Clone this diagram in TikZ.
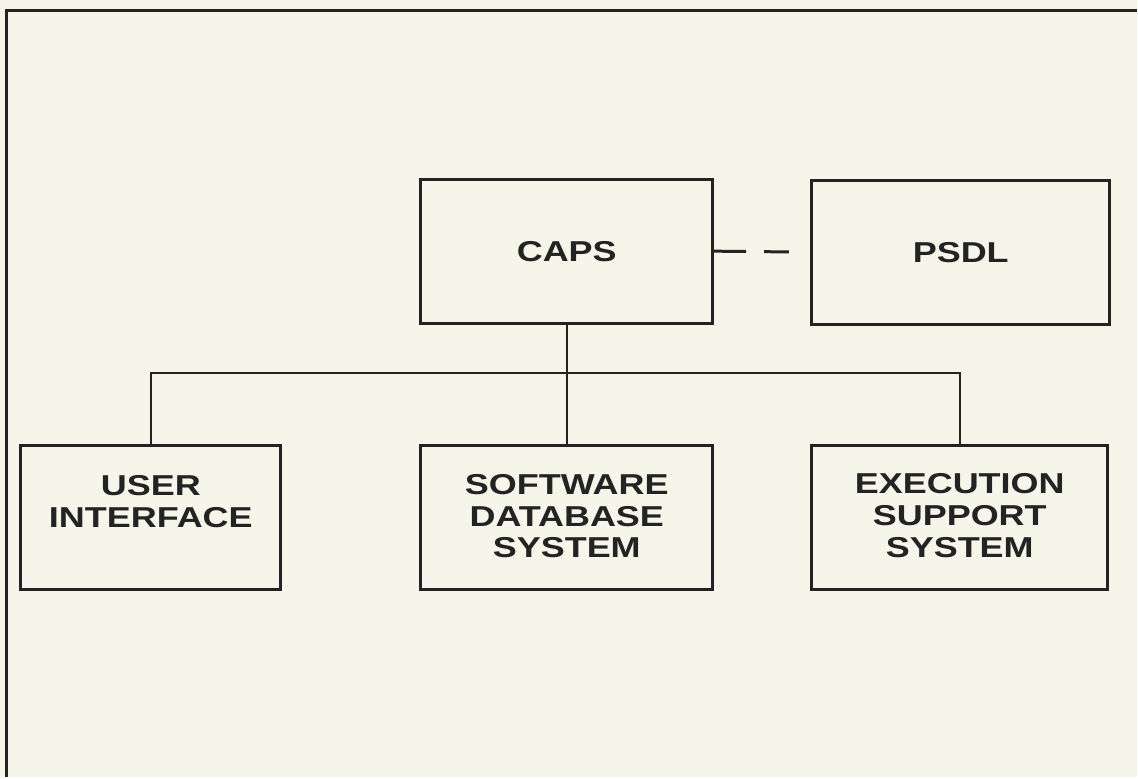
\documentclass[tikz,border=0pt]{standalone}
\usepackage{fontspec}
\setmainfont{Liberation Sans}[FakeStretch=1.25]
\usetikzlibrary{positioning}
\definecolor{paper}{RGB}{245,245,234}
\definecolor{ink}{RGB}{35,35,35}
\newcommand{\stacked}[1]{\begin{tabular}{@{}c@{}}#1\end{tabular}}

\begin{document}
\begin{tikzpicture}[x=0.5pt, y=-0.5pt, module/.style={draw=ink, line width=1.5pt, shape=rectangle, minimum width=146pt, minimum height=72pt, inner sep=0pt, align=center, text=ink}, every node/.style={font=\fontsize{14.4}{16}\bfseries\selectfont}]

    % Page and frame
    \fill[paper] (0,0) rectangle (1138,778);
    \draw[ink, line width=1.5pt] (7,778) -- (7,11) -- (1138,11);

    % Define the modules (nodes)
    \node[module] (caps) at (567.5,251.5) {CAPS}; % top module
    \node[module, minimum width=149pt] (psdl) at (962,252.5) {PSDL}; % language, to the right of CAPS
    \node[module, minimum width=130pt, text height=21pt, text depth=27pt] (ui) at (151,518.5) {\stacked{USER\\INTERFACE}}; % text sits high
    \node[module, text height=28.5pt, text depth=19.5pt] (sdb) at (567.5,518.5) {\stacked{SOFTWARE\\DATABASE\\SYSTEM}};
    \node[module, minimum width=148pt, text height=28.7pt, text depth=19.3pt] (ess) at (961,518) {\stacked{EXECUTION\\SUPPORT\\SYSTEM}};
    \coordinate (bus) at (567.5,373);

    % Define the links
    \draw[ink, line width=1.5pt, dash pattern=on 16pt off 9pt on 12.5pt off 60pt] (caps.east) -- (psdl.west);
    \draw[ink, line width=1pt] (caps.south) -- (sdb.north);
    \draw[ink, line width=1pt] (ui.north) |- (bus) -| (ess.north);
\end{tikzpicture}
\end{document}
